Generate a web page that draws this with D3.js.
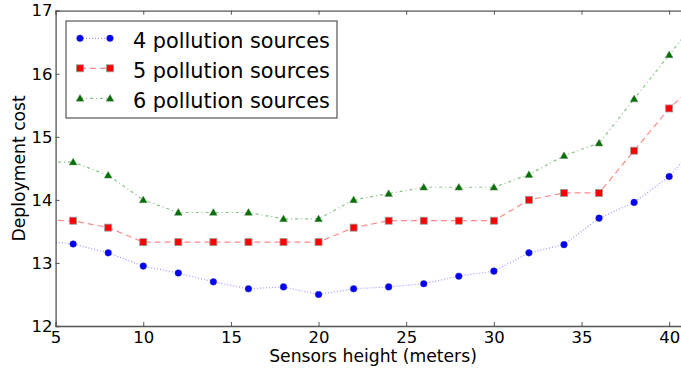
<!DOCTYPE html>
<html>
<head>
<meta charset="utf-8">
<script src="https://cdn.jsdelivr.net/npm/d3@7"></script>
<style>
  html, body { margin: 0; padding: 0; background: #fff; }
  svg { display: block; font-family: 'DejaVu Sans', sans-serif; }
</style>
</head>
<body>
<svg id="chart" width="681" height="372"></svg>
<script>
// sensor heights (the first and last are cut off by the axis limits)
const heights = [4, 6, 8, 10, 12, 14, 16, 18, 20, 22, 24, 26, 28, 30, 32, 34, 36, 38, 40, 42];

const cost4 = [13.36, 13.30, 13.16, 12.95, 12.84, 12.70, 12.59, 12.62, 12.50, 12.59,
               12.62, 12.67, 12.79, 12.87, 13.16, 13.29, 13.71, 13.96, 14.37, 15.00];
const cost5 = [13.68, 13.67, 13.56, 13.33, 13.33, 13.33, 13.33, 13.33, 13.33, 13.56,
               13.67, 13.67, 13.67, 13.67, 14.00, 14.11, 14.11, 14.78, 15.45, 15.96];
const cost6 = [14.60, 14.60, 14.39, 14.00, 13.80, 13.80, 13.80, 13.70, 13.70, 14.00,
               14.10, 14.20, 14.20, 14.20, 14.40, 14.70, 14.90, 15.60, 16.30, 17.00];

const seriesNames = ['4 pollution sources', '5 pollution sources', '6 pollution sources'];
const xTicks = [5, 10, 15, 20, 25, 30, 35, 40];
const yTicks = [12, 13, 14, 15, 16, 17];

const series = [
  { name: seriesNames[0], values: cost4, color: '#0000ff', line: '#9a9aff', dash: '1,2', marker: 'circle' },
  { name: seriesNames[1], values: cost5, color: '#ff0000', line: '#ff8a8a', dash: '6,4', marker: 'square' },
  { name: seriesNames[2], values: cost6, color: '#007000', line: '#86c486', dash: '3,3,1,3', marker: 'triangle' }
];

const svg = d3.select('#chart');

// plot box (right edge falls just outside the picture)
const plotLeft = 55.6, plotTop = 10.7, plotBottom = 326, plotRight = 686.7;

const x = d3.scaleLinear().domain([5, 41]).range([plotLeft, plotRight]);
const y = d3.scaleLinear().domain([12, 17]).range([plotBottom, plotTop]);

svg.append('defs').append('clipPath').attr('id', 'plot-clip')
  .append('rect')
  .attr('x', plotLeft).attr('y', plotTop)
  .attr('width', plotRight - plotLeft).attr('height', plotBottom - plotTop);

const plot = svg.append('g').attr('clip-path', 'url(#plot-clip)');

const line = d3.line()
  .x((d, i) => x(heights[i]))
  .y(d => y(d));

function drawMarker(sel, type, color) {
  if (type === 'circle') {
    sel.append('circle').attr('r', 3.3)
      .attr('fill', color).attr('stroke', '#3030a0').attr('stroke-width', 0.5);
  } else if (type === 'square') {
    sel.append('rect').attr('x', -3.5).attr('y', -3.5).attr('width', 7).attr('height', 7)
      .attr('fill', color).attr('stroke', '#999').attr('stroke-width', 0.8);
  } else {
    sel.append('path').attr('d', d3.symbol().type(d3.symbolTriangle).size(26))
      .attr('transform', 'translate(0,0.6)')
      .attr('fill', color).attr('stroke', '#6a8a6a').attr('stroke-width', 0.5);
  }
}

series.forEach(s => {
  plot.append('path')
    .datum(s.values)
    .attr('fill', 'none')
    .attr('stroke', s.line)
    .attr('stroke-width', 1.2)
    .attr('stroke-dasharray', s.dash)
    .attr('d', line);

  plot.selectAll(null)
    .data(s.values)
    .enter().append('g')
    .attr('transform', (d, i) => `translate(${x(heights[i])},${y(d)})`)
    .each(function () { drawMarker(d3.select(this), s.marker, s.color); });
});

// axes: ticks point inward on all four sides
const axisColor = '#555';
const xBottom = svg.append('g').attr('transform', `translate(0,${plotBottom})`)
  .call(d3.axisBottom(x).tickValues(xTicks).tickSize(-4).tickPadding(5).tickFormat(d3.format('d')));
const xTop = svg.append('g').attr('transform', `translate(0,${plotTop})`)
  .call(d3.axisTop(x).tickValues(xTicks).tickSize(-4).tickFormat(''));
const yLeft = svg.append('g').attr('transform', `translate(${plotLeft},0)`)
  .call(d3.axisLeft(y).tickValues(yTicks).tickSize(-4).tickPadding(3).tickFormat(d3.format('d')));
const yRight = svg.append('g').attr('transform', `translate(${plotRight},0)`)
  .call(d3.axisRight(y).tickValues(yTicks).tickSize(-4).tickFormat(''));

[xBottom, xTop, yLeft, yRight].forEach(a => {
  a.select('.domain').attr('stroke', axisColor).attr('stroke-width', 1.3);
  a.selectAll('.tick line').attr('stroke', axisColor);
  a.selectAll('.tick text').attr('fill', '#000').attr('font-size', 16.5)
    .attr('font-family', 'DejaVu Sans, sans-serif');
});

// axis titles: the reference text is slightly narrower than DejaVu at that height
svg.append('text')
  .attr('transform', 'translate(373,361.5) scale(0.94,1)')
  .attr('text-anchor', 'middle')
  .attr('font-size', 18.3)
  .text('Sensors height (meters)');

svg.append('text')
  .attr('transform', `translate(24.5,${(plotTop + plotBottom) / 2}) rotate(-90) scale(0.94,1)`)
  .attr('text-anchor', 'middle')
  .attr('font-size', 18.3)
  .text('Deployment cost');

// legend
const legend = svg.append('g');
legend.append('rect')
  .attr('x', 66).attr('y', 21).attr('width', 271).attr('height', 97)
  .attr('fill', '#fff').attr('stroke', axisColor).attr('stroke-width', 1.2);

series.forEach((s, i) => {
  const ly = 38.3 + i * 30;
  legend.append('line')
    .attr('x1', 80).attr('x2', 110).attr('y1', ly).attr('y2', ly)
    .attr('stroke', s.line).attr('stroke-width', 1.2).attr('stroke-dasharray', s.dash);
  [80, 110].forEach(mx => {
    const g = legend.append('g').attr('transform', `translate(${mx},${ly})`);
    drawMarker(g, s.marker, s.color);
  });
  legend.append('text')
    .attr('x', 133).attr('y', ly + 9.5)
    .attr('font-size', 20.8)
    .text(s.name);
});
</script>
</body>
</html>
